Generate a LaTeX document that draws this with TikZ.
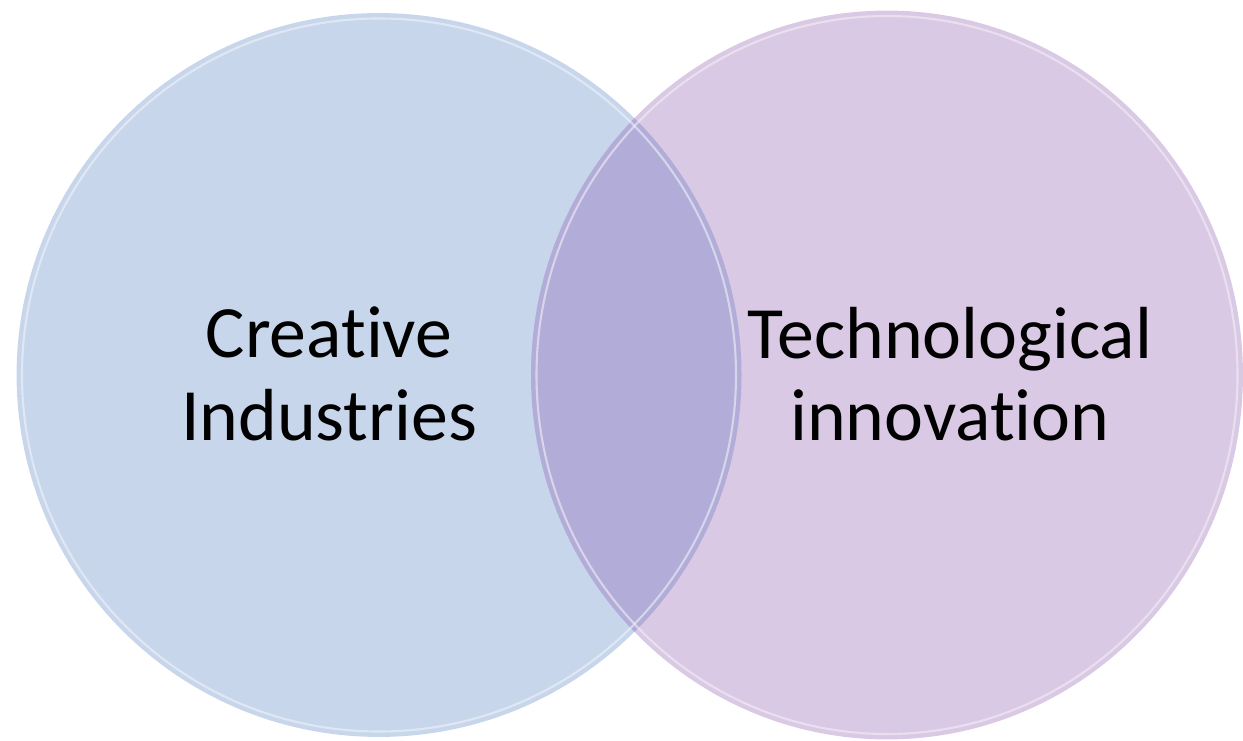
\documentclass[tikz,border=0pt]{standalone}
\usepackage{fontspec}
\setmainfont{Carlito}[Ligatures=NoCommon]
\usetikzlibrary{shapes.geometric}

\definecolor{creablue}{RGB}{200,214,236}
\definecolor{techpurple}{RGB}{217,201,228}
\definecolor{overlapviolet}{RGB}{177,172,216}

\begin{document}
\begin{tikzpicture}[x=0.02cm, y=0.02cm]

  \tikzstyle{bubble} = [ellipse, inner sep=0pt, draw=none]
  \tikzstyle{rim} = [draw=white, line width=1.2pt, draw opacity=0.6]
  \tikzstyle{label} = [align=center, font=\fontsize{42}{47}\selectfont, text=black]

  \useasboundingbox (0,0) rectangle (1243,740);

  % the two sets
  \node (creative) [bubble, fill=creablue, minimum width=14.5cm, minimum height=14.48cm] at (379,365) {};
  \node (techno)   [bubble, fill=techpurple, minimum width=14.24cm, minimum height=14.58cm] at (887,365) {};

  % overlap of the sets
  \begin{scope}
    \clip (379,365) ellipse [x radius=362.5, y radius=362];
    \fill [overlapviolet] (887,365) ellipse [x radius=356, y radius=364.5];
  \end{scope}

  % glossy rims
  \draw [rim, draw=creablue!30!white] (379,365) ellipse [x radius=357, y radius=356.5];
  \draw [rim, draw=techpurple!30!white] (887,365) ellipse [x radius=350.5, y radius=359];

  % labels
  \node (crealabel) [label] at (329,366) {Creative\\Industries};
  \node (techlabel) [label] at (950,366) {Technological\\innovation};

\end{tikzpicture}
\end{document}
